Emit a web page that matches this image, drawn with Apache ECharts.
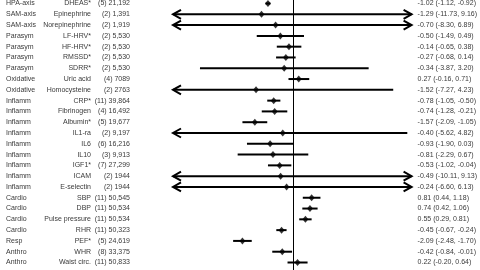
<!DOCTYPE html>
<html>
<head>
<meta charset="utf-8">
<script src="https://cdn.jsdelivr.net/npm/echarts@6/dist/echarts.min.js"></script>
<style>html,body{margin:0;padding:0;background:#fff}#c{width:480px;height:270px}</style>
</head>
<body>
<div id="c"></div>
<script>
const groups = ['HPA-axis','SAM-axis','SAM-axis','Parasym','Parasym','Parasym','Parasym','Oxidative','Oxidative','Inflamm','Inflamm','Inflamm','Inflamm','Inflamm','Inflamm','Inflamm','Inflamm','Inflamm','Cardio','Cardio','Cardio','Cardio','Resp','Anthro','Anthro'];
const names = ['DHEAS*','Epinephrine','Norepinephrine','LF-HRV*','HF-HRV*','RMSSD*','SDRR*','Uric acid','Homocysteine','CRP*','Fibrinogen','Albumin*','IL1-ra','IL6','IL10','IGF1*','ICAM','E-selectin','SBP','DBP','Pulse pressure','RHR','PEF*','WHR','Waist circ.'];
const studyN = ['(5) 21,192','(2) 1,391','(2) 1,919','(2) 5,530','(2) 5,530','(2) 5,530','(2) 5,530','(4) 7089','(2) 2763','(11) 39,864','(4) 16,492','(5) 19,677','(2) 9,197','(6) 16,216','(3) 9,913','(7) 27,299','(2) 1944','(2) 1944','(11) 50,545','(11) 50,534','(11) 50,534','(11) 50,323','(5) 24,619','(8) 33,375','(11) 50,833'];
const est = [-1.02,-1.29,-0.70,-0.50,-0.14,-0.27,-0.34,0.27,-1.52,-0.78,-0.74,-1.57,-0.40,-0.93,-0.81,-0.53,-0.49,-0.24,0.81,0.74,0.55,-0.45,-2.09,-0.42,0.22];
const lo = [-1.12,-11.73,-8.30,-1.49,-0.65,-0.68,-3.87,-0.16,-7.27,-1.05,-1.28,-2.09,-5.62,-1.90,-2.29,-1.02,-10.11,-6.60,0.44,0.42,0.29,-0.67,-2.48,-0.84,-0.20];
const hi = [-0.92,9.16,6.89,0.49,0.38,0.14,3.20,0.71,4.23,-0.50,-0.21,-1.05,4.82,0.03,0.67,-0.04,9.13,6.13,1.18,1.06,0.81,-0.24,-1.70,-0.01,0.64];

const XMIN = -5, XMAX = 5;
const idx = names.map((_, i) => i);
const ciText = est.map((e, i) => e.toFixed(2) + ' (' + lo[i].toFixed(2) + ', ' + hi[i].toFixed(2) + ')');

const font = 'Liberation Sans, Arial, sans-serif';
const txtColor = '#3a3a3a';
function labelAxis(data, pos, margin, align) {
  return {
    type: 'category', gridIndex: 1, inverse: true, boundaryGap: false, data: data, position: pos,
    axisLine: {show: false}, axisTick: {show: false}, splitLine: {show: false},
    axisLabel: {interval: 0, margin: margin, align: align, fontSize: 7, color: txtColor, fontFamily: font}
  };
}

const chart = echarts.init(document.getElementById('c'), null, {renderer: 'canvas'});
chart.setOption({
  animation: false,
  backgroundColor: '#fff',
  grid: [
    {left: 173, width: 240, top: 0, bottom: 0},
    {left: 173, width: 240, top: 2, bottom: 7.5}
  ],
  xAxis: [
    {type: 'value', gridIndex: 0, min: XMIN, max: XMAX, show: false},
    {type: 'value', gridIndex: 1, min: XMIN, max: XMAX, show: false}
  ],
  yAxis: [
    {type: 'value', gridIndex: 0, min: 0, max: 1, show: false},
    {type: 'category', gridIndex: 1, inverse: true, boundaryGap: false, data: names, show: false},
    labelAxis(groups, 'left', 167, 'left'),
    labelAxis(names, 'left', 82, 'right'),
    labelAxis(studyN, 'left', 43, 'right'),
    labelAxis(ciText, 'right', 6, 'left')
  ],
  series: [
    {
      type: 'line', xAxisIndex: 0, yAxisIndex: 0, data: [], silent: true,
      markLine: {silent: true, symbol: 'none', label: {show: false},
        lineStyle: {color: '#000', width: 1, type: 'solid'}, data: [{xAxis: 0}]}
    },
    {
      type: 'custom', xAxisIndex: 1, yAxisIndex: 1,
      data: idx.map(i => [lo[i], hi[i], i]),
      encode: {x: [0, 1], y: 2},
      renderItem: function (params, api) {
        const l = api.value(0), h = api.value(1), i = api.value(2);
        const p0 = api.coord([Math.max(l, XMIN), i]);
        const p1 = api.coord([Math.min(h, XMAX), i]);
        const style = {stroke: '#000', lineWidth: 2, fill: null};
        const children = [{type: 'line', shape: {x1: p0[0], y1: p0[1], x2: p1[0], y2: p1[1]}, style: style}];
        if (l < XMIN) children.push({type: 'polyline', shape: {points: [[p0[0] + 8, p0[1] - 4.5], [p0[0], p0[1]], [p0[0] + 8, p0[1] + 4.5]]}, style: style});
        if (h > XMAX) children.push({type: 'polyline', shape: {points: [[p1[0] - 8, p1[1] - 4.5], [p1[0], p1[1]], [p1[0] - 8, p1[1] + 4.5]]}, style: style});
        return {type: 'group', children: children};
      }
    },
    {
      type: 'scatter', xAxisIndex: 1, yAxisIndex: 1, symbol: 'diamond', symbolSize: [6, 7],
      itemStyle: {color: '#000'},
      data: idx.map(i => [est[i], i])
    }
  ]
});
</script>
</body>
</html>
